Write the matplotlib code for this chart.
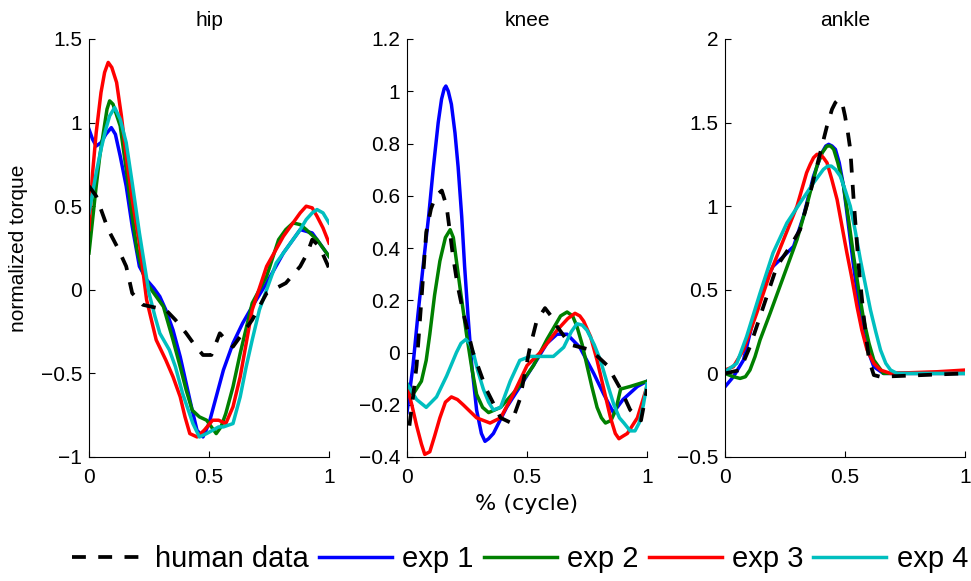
import matplotlib
matplotlib.use("Agg")
import matplotlib.pyplot as plt
from matplotlib.ticker import FuncFormatter

plt.rcParams['font.family'] = ['Liberation Sans', 'DejaVu Sans']

# ---- hip ----
hip_human_x = [0, 0.03, 0.055, 0.08, 0.12, 0.155, 0.18, 0.225, 0.32, 0.36, 0.405, 0.44, 0.475, 0.51, 0.545, 0.57, 0.6, 0.64, 0.68, 0.74, 0.82, 0.88, 0.91, 0.93, 0.96, 1.0]
hip_human_y = [0.62, 0.56, 0.46, 0.36, 0.25, 0.14, -0.02, -0.09, -0.12, -0.18, -0.26, -0.33, -0.39, -0.39, -0.26, -0.3, -0.34, -0.26, -0.18, -0.02, 0.04, 0.14, 0.22, 0.3, 0.26, 0.13]

hip_exp1_x = [0, 0.015, 0.03, 0.05, 0.07, 0.093, 0.11, 0.13, 0.155, 0.18, 0.21, 0.24, 0.27, 0.295, 0.32, 0.35, 0.38, 0.405, 0.43, 0.45, 0.475, 0.5, 0.53, 0.56, 0.6, 0.64, 0.68, 0.74, 0.81, 0.85, 0.88, 0.93, 0.96, 1.0]
hip_exp1_y = [0.96, 0.9, 0.86, 0.88, 0.93, 0.97, 0.93, 0.8, 0.62, 0.38, 0.14, 0.06, 0.01, -0.04, -0.12, -0.24, -0.4, -0.56, -0.72, -0.84, -0.88, -0.8, -0.64, -0.48, -0.32, -0.2, -0.1, 0.04, 0.22, 0.3, 0.36, 0.34, 0.28, 0.2]

hip_exp2_x = [0, 0.015, 0.03, 0.045, 0.06, 0.075, 0.086, 0.1, 0.13, 0.155, 0.18, 0.2, 0.225, 0.25, 0.27, 0.31, 0.35, 0.38, 0.405, 0.43, 0.46, 0.49, 0.51, 0.53, 0.55, 0.57, 0.6, 0.63, 0.68, 0.74, 0.79, 0.82, 0.85, 0.88, 0.905, 0.95, 1.0]
hip_exp2_y = [0.22, 0.42, 0.62, 0.8, 0.94, 1.08, 1.13, 1.11, 0.98, 0.72, 0.44, 0.24, 0.1, 0.02, -0.02, -0.1, -0.3, -0.46, -0.6, -0.72, -0.76, -0.78, -0.82, -0.86, -0.82, -0.74, -0.58, -0.38, -0.08, 0.08, 0.3, 0.36, 0.4, 0.39, 0.36, 0.3, 0.2]

hip_exp3_x = [0, 0.015, 0.03, 0.05, 0.065, 0.08, 0.095, 0.115, 0.135, 0.155, 0.18, 0.21, 0.24, 0.28, 0.32, 0.35, 0.38, 0.4, 0.42, 0.45, 0.48, 0.515, 0.54, 0.57, 0.6, 0.63, 0.68, 0.74, 0.81, 0.85, 0.88, 0.905, 0.93, 0.95, 0.975, 1.0]
hip_exp3_y = [0.36, 0.7, 0.94, 1.18, 1.3, 1.36, 1.33, 1.24, 1.04, 0.8, 0.54, 0.28, -0.06, -0.3, -0.42, -0.52, -0.64, -0.76, -0.86, -0.88, -0.84, -0.78, -0.78, -0.8, -0.7, -0.52, -0.12, 0.14, 0.32, 0.4, 0.46, 0.5, 0.49, 0.44, 0.37, 0.28]

hip_exp4_x = [0, 0.015, 0.03, 0.05, 0.07, 0.086, 0.107, 0.13, 0.155, 0.18, 0.21, 0.25, 0.275, 0.295, 0.335, 0.36, 0.39, 0.433, 0.46, 0.49, 0.515, 0.54, 0.56, 0.6, 0.63, 0.655, 0.68, 0.71, 0.78, 0.85, 0.88, 0.905, 0.93, 0.95, 0.975, 1.0]
hip_exp4_y = [0.46, 0.58, 0.7, 0.84, 0.96, 1.04, 1.09, 1.02, 0.88, 0.64, 0.34, -0.02, -0.16, -0.26, -0.36, -0.46, -0.62, -0.8, -0.88, -0.86, -0.84, -0.82, -0.82, -0.8, -0.64, -0.46, -0.3, -0.12, 0.16, 0.3, 0.36, 0.42, 0.46, 0.48, 0.46, 0.4]

# ---- knee ----
knee_human_x = [0.01, 0.025, 0.04, 0.06, 0.08, 0.1, 0.12, 0.145, 0.165, 0.19, 0.21, 0.235, 0.275, 0.33, 0.39, 0.435, 0.47, 0.51, 0.54, 0.575, 0.6, 0.625, 0.68, 0.765, 0.835, 0.89, 0.93, 0.975, 1.0]
knee_human_y = [-0.28, -0.17, -0.05, 0.2, 0.46, 0.55, 0.6, 0.62, 0.56, 0.38, 0.26, 0.15, 0.0, -0.14, -0.25, -0.27, -0.18, 0.01, 0.12, 0.17, 0.14, 0.1, 0.03, 0.01, -0.05, -0.14, -0.22, -0.26, -0.14]

knee_exp1_x = [0, 0.025, 0.045, 0.067, 0.09, 0.11, 0.13, 0.144, 0.155, 0.162, 0.172, 0.185, 0.2, 0.213, 0.228, 0.24, 0.255, 0.27, 0.29, 0.31, 0.325, 0.34, 0.36, 0.415, 0.485, 0.54, 0.583, 0.625, 0.667, 0.72, 0.778, 0.82, 0.86, 0.9, 0.96, 1.0]
knee_exp1_y = [-0.23, -0.05, 0.14, 0.33, 0.52, 0.71, 0.88, 0.97, 1.01, 1.02, 1.0, 0.95, 0.84, 0.71, 0.52, 0.33, 0.13, -0.05, -0.22, -0.31, -0.34, -0.33, -0.31, -0.21, -0.11, -0.03, 0.035, 0.07, 0.07, 0.02, -0.08, -0.16, -0.23, -0.18, -0.13, -0.11]

knee_exp2_x = [0, 0.025, 0.06, 0.08, 0.095, 0.115, 0.137, 0.16, 0.18, 0.193, 0.206, 0.225, 0.248, 0.27, 0.29, 0.315, 0.34, 0.39, 0.458, 0.527, 0.583, 0.64, 0.667, 0.69, 0.708, 0.73, 0.75, 0.77, 0.792, 0.81, 0.827, 0.85, 0.87, 0.89, 0.93, 1.0]
knee_exp2_y = [-0.12, -0.16, -0.11, -0.03, 0.07, 0.22, 0.35, 0.44, 0.47, 0.44, 0.35, 0.22, 0.07, -0.06, -0.16, -0.21, -0.23, -0.21, -0.14, -0.05, 0.05, 0.14, 0.155, 0.14, 0.1, 0.03, -0.05, -0.13, -0.21, -0.25, -0.27, -0.26, -0.22, -0.14, -0.13, -0.11]

knee_exp3_x = [0, 0.02, 0.04, 0.06, 0.074, 0.095, 0.115, 0.137, 0.16, 0.185, 0.21, 0.234, 0.29, 0.346, 0.39, 0.443, 0.5, 0.555, 0.625, 0.67, 0.7, 0.72, 0.736, 0.765, 0.792, 0.82, 0.848, 0.868, 0.883, 0.9, 0.918, 0.96, 1.0]
knee_exp3_y = [-0.13, -0.2, -0.28, -0.35, -0.39, -0.38, -0.32, -0.25, -0.19, -0.17, -0.18, -0.2, -0.25, -0.27, -0.25, -0.16, -0.05, 0.0, 0.085, 0.13, 0.15, 0.14, 0.12, 0.06, -0.03, -0.14, -0.25, -0.31, -0.33, -0.32, -0.31, -0.25, -0.13]

knee_exp4_x = [0, 0.04, 0.08, 0.123, 0.165, 0.206, 0.225, 0.245, 0.26, 0.276, 0.295, 0.318, 0.34, 0.36, 0.39, 0.43, 0.47, 0.513, 0.57, 0.61, 0.653, 0.685, 0.708, 0.73, 0.75, 0.78, 0.806, 0.835, 0.862, 0.885, 0.904, 0.93, 0.95, 0.967, 0.985, 1.0]
knee_exp4_y = [-0.12, -0.18, -0.21, -0.17, -0.09, 0.0, 0.035, 0.05, 0.035, 0.0, -0.07, -0.14, -0.19, -0.22, -0.21, -0.11, -0.03, -0.015, -0.015, -0.015, 0.02, 0.08, 0.11, 0.105, 0.085, 0.03, -0.03, -0.12, -0.2, -0.25, -0.27, -0.3, -0.3, -0.27, -0.2, -0.12]

# ---- ankle ----
ankle_human_x = [0, 0.063, 0.104, 0.16, 0.216, 0.272, 0.313, 0.355, 0.397, 0.425, 0.446, 0.46, 0.474, 0.488, 0.5, 0.512, 0.522, 0.536, 0.557, 0.578, 0.6, 0.62, 0.647, 1.0]
ankle_human_y = [0, 0.02, 0.16, 0.4, 0.64, 0.76, 0.86, 1.08, 1.32, 1.48, 1.58, 1.62, 1.64, 1.62, 1.54, 1.44, 1.34, 1.04, 0.64, 0.34, 0.08, -0.01, -0.02, 0.0]

ankle_exp1_x = [0, 0.035, 0.077, 0.118, 0.16, 0.2, 0.244, 0.286, 0.327, 0.369, 0.404, 0.42, 0.432, 0.446, 0.46, 0.476, 0.494, 0.515, 0.536, 0.557, 0.578, 0.6, 0.62, 0.66, 1.0]
ankle_exp1_y = [-0.08, -0.02, 0.08, 0.32, 0.52, 0.64, 0.7, 0.76, 0.94, 1.18, 1.32, 1.36, 1.37, 1.36, 1.34, 1.26, 1.12, 0.88, 0.64, 0.42, 0.24, 0.12, 0.04, 0.0, 0.0]

ankle_exp2_x = [0, 0.035, 0.063, 0.085, 0.104, 0.125, 0.146, 0.188, 0.244, 0.3, 0.34, 0.383, 0.405, 0.425, 0.44, 0.453, 0.47, 0.494, 0.515, 0.536, 0.557, 0.578, 0.6, 0.62, 0.66, 1.0]
ankle_exp2_y = [0.0, -0.02, -0.03, -0.02, 0.02, 0.1, 0.2, 0.36, 0.58, 0.8, 1.0, 1.24, 1.32, 1.36, 1.36, 1.34, 1.26, 1.12, 0.92, 0.7, 0.5, 0.32, 0.18, 0.08, 0.0, 0.0]

ankle_exp3_x = [0, 0.035, 0.077, 0.132, 0.188, 0.244, 0.3, 0.34, 0.355, 0.369, 0.383, 0.397, 0.41, 0.425, 0.445, 0.467, 0.49, 0.508, 0.53, 0.55, 0.57, 0.592, 0.62, 0.648, 0.69, 0.885, 1.0]
ankle_exp3_y = [0.02, 0.04, 0.14, 0.36, 0.6, 0.8, 1.0, 1.2, 1.25, 1.29, 1.31, 1.31, 1.29, 1.26, 1.16, 1.04, 0.86, 0.72, 0.56, 0.4, 0.26, 0.14, 0.06, 0.02, 0.0, 0.01, 0.02]

ankle_exp4_x = [0, 0.049, 0.09, 0.146, 0.2, 0.258, 0.313, 0.369, 0.41, 0.428, 0.443, 0.46, 0.48, 0.5, 0.522, 0.543, 0.564, 0.585, 0.606, 0.628, 0.648, 0.67, 0.69, 0.717, 1.0]
ankle_exp4_y = [0.01, 0.06, 0.22, 0.48, 0.72, 0.9, 1.02, 1.14, 1.22, 1.24, 1.24, 1.22, 1.18, 1.1, 1.0, 0.85, 0.68, 0.53, 0.38, 0.25, 0.14, 0.06, 0.02, 0.0, 0.0]

titles = ['hip', 'knee', 'ankle']
yticks = [
    [-1, -0.5, 0, 0.5, 1, 1.5],
    [-0.4, -0.2, 0, 0.2, 0.4, 0.6, 0.8, 1, 1.2],
    [-0.5, 0, 0.5, 1, 1.5, 2],
]
xticks = [0, 0.5, 1]
series_labels = ['human data', 'exp 1', 'exp 2', 'exp 3', 'exp 4']
colors = ['black', (0, 0, 1), (0, 0.5, 0), (1, 0, 0), (0, 0.75, 0.75)]

panels = [
    [(hip_human_x, hip_human_y), (hip_exp1_x, hip_exp1_y), (hip_exp2_x, hip_exp2_y),
     (hip_exp3_x, hip_exp3_y), (hip_exp4_x, hip_exp4_y)],
    [(knee_human_x, knee_human_y), (knee_exp1_x, knee_exp1_y), (knee_exp2_x, knee_exp2_y),
     (knee_exp3_x, knee_exp3_y), (knee_exp4_x, knee_exp4_y)],
    [(ankle_human_x, ankle_human_y), (ankle_exp1_x, ankle_exp1_y), (ankle_exp2_x, ankle_exp2_y),
     (ankle_exp3_x, ankle_exp3_y), (ankle_exp4_x, ankle_exp4_y)],
]

fig = plt.figure(figsize=(9.71, 5.81), dpi=100)
lefts = [89 / 971, 407 / 971, 725 / 971]
fmt = FuncFormatter(lambda v, p: ('%g' % round(v, 2)).replace('-', '\u2212'))

handles = []
for i, (left, title) in enumerate(zip(lefts, titles)):
    ax = fig.add_axes([left, 124 / 581, 240 / 971, 418 / 581])
    for j, ((xs, ys), c) in enumerate(zip(panels[i], colors)):
        if j == 0:
            ln, = ax.plot(xs, ys, color=c, lw=2.7, ls=(0, (3.7, 3.3)), zorder=3,
                          solid_joinstyle='round', label=series_labels[j])
        else:
            ln, = ax.plot(xs, ys, color=c, lw=2.5, zorder=2 + j * 0.1,
                          solid_joinstyle='round', label=series_labels[j])
        if i == 0:
            handles.append(ln)
    ax.set_xlim(0, 1)
    ax.set_ylim(yticks[i][0], yticks[i][-1])
    ax.set_xticks(xticks)
    ax.set_yticks(yticks[i])
    ax.xaxis.set_major_formatter(fmt)
    ax.yaxis.set_major_formatter(fmt)
    ax.spines['top'].set_visible(False)
    ax.spines['right'].set_visible(False)
    ax.tick_params(direction='in', length=4, labelsize=15, width=0.8, pad=5)
    ax.tick_params(axis='x', pad=8)
    ax.set_title(title, fontsize=15, pad=9)
    if i == 0:
        ax.set_ylabel('normalized torque', fontsize=15, labelpad=9)
    if i == 1:
        ax.set_xlabel('% (cycle)', fontsize=16, labelpad=5, family='DejaVu Sans')

fig.legend(handles, series_labels, loc='center', bbox_to_anchor=(520 / 971, 1 - 559 / 581),
           ncol=5, frameon=False, fontsize=21, handlelength=2.5, handletextpad=0.35,
           columnspacing=0.35, borderpad=0, borderaxespad=0)

fig.savefig('out.png', dpi=100)
